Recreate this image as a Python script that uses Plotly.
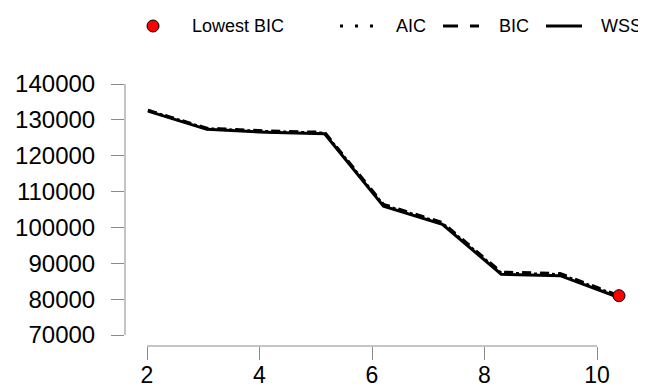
import plotly.graph_objects as go

# ---- data ----
k_values = [2, 3, 4, 5, 6, 7, 8, 9, 10]
wss = [132450, 127350, 126550, 126100, 105950, 100850, 86950, 86550, 80450]
aic = [132600, 127530, 126750, 126320, 106200, 101120, 87250, 86870, 80800]
bic = [132700, 127660, 126920, 126530, 106430, 101380, 87530, 87170, 80960]
lowest_bic_k = [10]
lowest_bic_value = [80960]

x_tick_vals = [2, 4, 6, 8, 10]
x_tick_text = ["2", "4", "6", "8", "10"]
y_tick_vals = [70000, 80000, 90000, 100000, 110000, 120000, 130000, 140000]
y_tick_text = ["70000", "80000", "90000", "100000", "110000", "120000", "130000", "140000"]

legend_labels = ["Lowest BIC", "AIC", "BIC", "WSS"]

# ---- layout geometry (reference pixel coords; page body adds an 8px offset) ----
OFF = 8
PL, PR, PT, PB = 125, 640, 60, 346   # plot area in reference coordinates
W, H = 646 - OFF, 390 - OFF
L, T = PL - OFF, PT - OFF
R = W - (PR - OFF)
B = H - (PB - OFF)
pw = PR - PL
ph = PB - PT

def px_x(px):
    return (px - PL) / pw

def px_y(py):
    return (PB - py) / ph

FONT = "Liberation Sans, Arial, Helvetica, sans-serif"
AXIS_GREY = "#8a8a8a"

fig = go.Figure()

fig.add_trace(go.Scatter(x=k_values, y=wss, mode="lines", name="WSS",
                         line=dict(color="black", width=3), showlegend=False))
fig.add_trace(go.Scatter(x=k_values, y=aic, mode="lines", name="AIC",
                         line=dict(color="black", width=3, dash="dot"), showlegend=False))
fig.add_trace(go.Scatter(x=k_values, y=bic, mode="lines", name="BIC",
                         line=dict(color="black", width=3, dash="dash"), showlegend=False))
fig.add_trace(go.Scatter(x=lowest_bic_k, y=lowest_bic_value, mode="markers", name="Lowest BIC",
                         marker=dict(color="red", size=12, line=dict(color="black", width=1)),
                         showlegend=False))
# invisible trace to anchor the tick axis
fig.add_trace(go.Scatter(x=[x_tick_vals[0], x_tick_vals[-1]], y=[None, None], xaxis="x2",
                         mode="lines", showlegend=False, hoverinfo="skip"))

shapes = []
# R-style axis lines spanning only the tick range
shapes.append(dict(type="line", xref="x2", yref="paper", x0=x_tick_vals[0], x1=x_tick_vals[-1],
                   y0=0, y1=0, line=dict(color=AXIS_GREY, width=1)))
shapes.append(dict(type="line", xref="paper", yref="y", x0=0, x1=0,
                   y0=y_tick_vals[0], y1=y_tick_vals[-1], line=dict(color=AXIS_GREY, width=1)))

# manual legend
LS = -4  # small shift so the last label fits in the window
ly = px_y(26)
shapes.append(dict(type="circle", xref="paper", yref="paper", xsizemode="pixel", ysizemode="pixel",
                   xanchor=px_x(157 + LS), yanchor=ly, x0=-6, x1=6, y0=-6, y1=6,
                   fillcolor="red", line=dict(color="black", width=1)))
shapes.append(dict(type="line", xref="paper", yref="paper", x0=px_x(344 + LS), x1=px_x(378 + LS),
                   y0=ly, y1=ly, line=dict(color="black", width=3, dash="3px,12px")))
shapes.append(dict(type="line", xref="paper", yref="paper", x0=px_x(447 + LS), x1=px_x(483 + LS),
                   y0=ly, y1=ly, line=dict(color="black", width=3, dash="15px,12px")))
shapes.append(dict(type="line", xref="paper", yref="paper", x0=px_x(550 + LS), x1=px_x(586 + LS),
                   y0=ly, y1=ly, line=dict(color="black", width=3)))

annotations = []
for label, px in zip(legend_labels, [194, 398, 501, 603]):
    annotations.append(dict(text=label, xref="paper", yref="paper", x=px_x(px + LS), y=ly,
                            xanchor="left", yanchor="middle", showarrow=False,
                            font=dict(family=FONT, size=18, color="black")))

# axis ranges (data axis and tick axis have slightly different scales, as in the reference)
x_data_range = [2 - (148 - PL) / 58.875, 2 - (148 - PL) / 58.875 + pw / 58.875]
x_tick_range = [2 - (147 - PL) / 56.25, 2 - (147 - PL) / 56.25 + pw / 56.25]
per_px = 10000 / 35.857
y_bottom = 70000 - (PB - 335) * per_px
y_range = [y_bottom, y_bottom + ph * per_px]

fig.update_layout(
    width=W, height=H,
    margin=dict(l=L, r=R, t=T, b=B, pad=0, autoexpand=False),
    paper_bgcolor="white", plot_bgcolor="white",
    font=dict(family=FONT, color="black"),
    showlegend=False,
    shapes=shapes,
    annotations=annotations,
    xaxis=dict(range=x_data_range, visible=False, showgrid=False, zeroline=False,
               automargin=False),
    xaxis2=dict(range=x_tick_range, overlaying="x", anchor="y", side="bottom",
                tickvals=x_tick_vals, ticktext=x_tick_text, ticks="outside", ticklen=13,
                tickcolor=AXIS_GREY, tickwidth=1, showline=False, showgrid=False, zeroline=False,
                automargin=False, ticklabelstandoff=-5,
                tickfont=dict(family=FONT, size=23, color="black")),
    yaxis=dict(range=y_range, tickvals=y_tick_vals, ticktext=y_tick_text, ticks="outside",
               ticklen=13, tickcolor=AXIS_GREY, tickwidth=1, showline=False, showgrid=False,
               zeroline=False, ticklabelstandoff=11, automargin=False,
               tickfont=dict(family=FONT, size=24, color="black")),
)

fig.write_html("out.html")
